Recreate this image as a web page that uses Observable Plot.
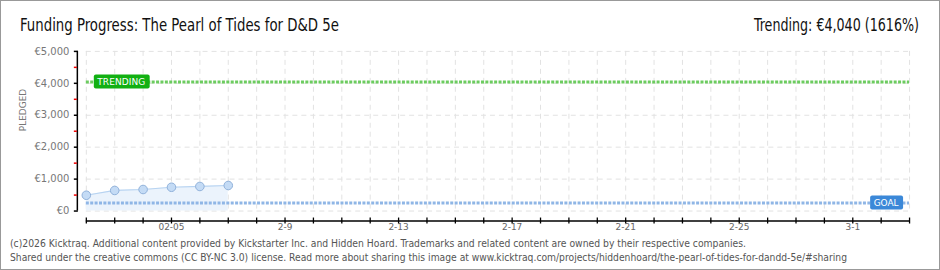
<!DOCTYPE html>
<html>
<head>
<meta charset="utf-8">
<script src="https://cdn.jsdelivr.net/npm/d3@7"></script>
<script src="https://cdn.jsdelivr.net/npm/@observablehq/plot@0.6"></script>
<style>
  body { margin: 0; background: #fff; }
  #wrap { position: relative; width: 940px; height: 270px; box-sizing: border-box; border: 1px solid #999; overflow: hidden; background: #fff; }
  #chart { position: absolute; left: 0; top: 0; }
  .fit { position: absolute; white-space: nowrap; transform-origin: 0 0; }
  #title { left: 19px; top: 13px; font: 18px "DejaVu Sans Condensed", "DejaVu Sans", sans-serif; color: #111; }
  #trend { top: 13px; font: 18px "DejaVu Sans Condensed", "DejaVu Sans", sans-serif; color: #111; }
  .foot { left: 9px; font: 10px "DejaVu Sans Condensed", "DejaVu Sans", sans-serif; color: #555; }
</style>
</head>
<body>
<div id="wrap">
  <div id="chart"></div>
  <div id="title" class="fit" data-w="319">Funding Progress: The Pearl of Tides for D&amp;D 5e</div>
  <div id="trend" class="fit" data-w="165" data-right="918">Trending: €4,040 (1616%)</div>
  <div class="fit foot" style="top:237px" data-w="736">(c)2026 Kicktraq. Additional content provided by Kickstarter Inc. and Hidden Hoard. Trademarks and related content are owned by their respective companies.</div>
  <div class="fit foot" style="top:251px" data-w="837">Shared under the creative commons (CC BY-NC 3.0) license. Read more about sharing this image at www.kicktraq.com/projects/hiddenhoard/the-pearl-of-tides-for-dandd-5e/#sharing</div>
</div>
<script>
// ---- data ----
const dates = ["2026-02-02", "2026-02-03", "2026-02-04", "2026-02-05", "2026-02-06", "2026-02-07"];
const pledged = [495, 645, 675, 745, 770, 800];
const goal = 250;
const trending = 4040;
const xStart = "2026-02-02";
const xEnd = "2026-03-03";
const yTicks = [0, 1000, 2000, 3000, 4000, 5000];
const yMinorTicks = [500, 1500, 2500, 3500, 4500];
const xLabelDates = ["2026-02-05", "2026-02-09", "2026-02-13", "2026-02-17", "2026-02-21", "2026-02-25", "2026-03-01"];
const xLabels = ["02-05", "2-9", "2-13", "2-17", "2-21", "2-25", "3-1"];

const parse = s => new Date(s + "T00:00:00Z");
const series = dates.map((d, i) => ({date: parse(d), value: pledged[i]}));
const x0 = parse(xStart), x1 = parse(xEnd);
const dayTicks = d3.utcDay.range(x0, d3.utcDay.offset(x1, 1));
const labelMap = new Map(xLabelDates.map((d, i) => [+parse(d), xLabels[i]]));

const fontAxis = "DejaVu Sans, sans-serif";

function labelBox(value, text, color, side) {
  return (index, scales, values, dims) => {
    const ns = "http://www.w3.org/2000/svg";
    const g = document.createElementNS(ns, "g");
    const py = scales.y(value);
    const t = document.createElementNS(ns, "text");
    t.textContent = text;
    t.setAttribute("font-family", fontAxis);
    t.setAttribute("font-size", "9");
    t.setAttribute("text-anchor", "start");
    t.setAttribute("fill", "#fff");
    t.setAttribute("dominant-baseline", "central");
    const w = side === "left" ? 56 : 33;
    const bx = side === "left" ? scales.x(x0) + 8 : scales.x(x1) - 6 - w;
    const r = document.createElementNS(ns, "rect");
    r.setAttribute("x", bx); r.setAttribute("y", py - 7);
    r.setAttribute("width", w); r.setAttribute("height", 14);
    r.setAttribute("rx", 2);
    r.setAttribute("fill", color);
    t.setAttribute("x", bx + 3.5); t.setAttribute("y", py + 0.5);
    t.setAttribute("textLength", w - 8);
    t.setAttribute("lengthAdjust", "spacing");
    g.appendChild(r); g.appendChild(t);
    return g;
  };
}

const plot = Plot.plot({
  width: 940,
  height: 270,
  marginLeft: 85,
  marginRight: 30,
  marginTop: 50,
  marginBottom: 60,
  style: {background: "transparent", overflow: "visible"},
  x: {type: "utc", domain: [x0, x1]},
  y: {domain: [0, 5000]},
  marks: [
    Plot.gridY(yTicks, {stroke: "#e2e2e2", strokeOpacity: 1, strokeDasharray: "5,4"}),
    Plot.gridX(dayTicks, {stroke: "#e2e2e2", strokeOpacity: 1, strokeDasharray: "5,4"}),
    Plot.areaY(series, {x: "date", y: "value", fill: "#ebf3fc"}),
    Plot.line(series, {x: "date", y: "value", stroke: "#b7d3f1", strokeWidth: 1.2}),
    Plot.ruleY([goal], {stroke: "#8fb6e6", strokeWidth: 3, strokeDasharray: "3,1.4"}),
    Plot.ruleY([trending], {stroke: "#6ccc5f", strokeWidth: 3, strokeDasharray: "3,1.4"}),
    Plot.dot(series, {x: "date", y: "value", r: 4.3, fill: "#c4dbf5", stroke: "#8fb0d9", strokeWidth: 1}),
    // y axis
    Plot.ruleX([x0], {y1: 0, y2: 5000, dx: -9, stroke: "#000", strokeWidth: 1.5}),
    Plot.axisY(yTicks, {tickSize: 4, dx: -8, stroke: "#000", strokeWidth: 1.5, tickPadding: 5,
      tickFormat: d => "€" + d3.format(",")(d), fill: "#777", fontSize: 10, fontFamily: fontAxis, letterSpacing: 0.8, label: null}),
    Plot.axisY(yMinorTicks, {tickSize: 3, dx: -9, stroke: "#e00", strokeWidth: 1.5, text: null, label: null}),
    Plot.text(["PLEDGED"], {frameAnchor: "left", dx: -63, rotate: -90, fill: "#777", fontSize: 9, fontFamily: fontAxis, letterSpacing: 1.5}),
    // x axis
    Plot.ruleY([0], {dy: 10, stroke: "#000", strokeWidth: 1.5}),
    Plot.axisX(dayTicks, {tickSize: 6, dy: 7, stroke: "#000", strokeWidth: 1.3, text: null, label: null}),
    Plot.axisX(xLabelDates.map(parse), {tickSize: 0, tickPadding: 0, dy: 13, tickFormat: d => labelMap.get(+d), fill: "#666", fontSize: 9, fontFamily: fontAxis, letterSpacing: 0.8, label: null}),
    labelBox(trending, "TRENDING", "#12b012", "left"),
    labelBox(goal, "GOAL", "#3b88d8", "right")
  ]
});
document.getElementById("chart").appendChild(plot);

document.querySelectorAll(".fit").forEach(el => {
  const w = el.getBoundingClientRect().width;
  const target = +el.dataset.w;
  el.style.transform = `scaleX(${target / w})`;
  if (el.dataset.right) el.style.left = (+el.dataset.right - target) + "px";
});
</script>
</body>
</html>
